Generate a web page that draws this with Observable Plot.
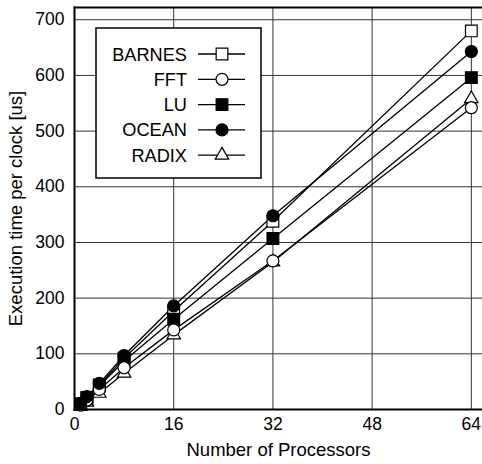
<!DOCTYPE html>
<html><head><meta charset="utf-8">
<script src="https://cdn.jsdelivr.net/npm/d3@7"></script>
<script src="https://cdn.jsdelivr.net/npm/@observablehq/plot@0.6"></script>
<style>body{margin:0;background:#fff} #chart{width:482px;height:464px}</style>
</head><body><div id="chart"></div>
<script>
const processors = [1, 2, 4, 8, 16, 32, 64];
const seriesNames = ["BARNES", "FFT", "LU", "OCEAN", "RADIX"];
const barnes = [10, 21, 44, 92, 177, 338, 680];
const fft    = [8, 17, 36, 75, 143, 267, 542];
const lu     = [10, 21, 42, 87, 162, 307, 596];
const ocean  = [11, 23, 47, 97, 186, 348, 643];
const radix  = [6, 13, 29, 65, 134, 265, 558];
const xTicks = [0, 16, 32, 48, 64];
const yTicks = [0, 100, 200, 300, 400, 500, 600, 700];

const values = {BARNES: barnes, FFT: fft, LU: lu, OCEAN: ocean, RADIX: radix};
const symbolOf = {BARNES: "square", FFT: "circle", LU: "square", OCEAN: "circle", RADIX: "triangle"};
const fillOf = {BARNES: "white", FFT: "white", LU: "black", OCEAN: "black", RADIX: "white"};
const rOf = {square: 6.6, circle: 6, triangle: 5};
const dotOrder = ["BARNES", "LU", "RADIX", "FFT", "OCEAN"];

const rows = seriesNames.flatMap(s => processors.map((p, i) => ({series: s, p, t: values[s][i]})));

const font = "'Liberation Sans', Arial, Helvetica, sans-serif";
const plot = Plot.plot({
  width: 482, height: 464,
  marginLeft: 74, marginRight: 0, marginTop: 7, marginBottom: 55,
  style: {fontFamily: font, fontSize: "17.5px", color: "black", background: "white"},
  x: {domain: [0, 65.8]},
  y: {domain: [0, 722]},
  marks: [
    Plot.gridX(xTicks.slice(1), {stroke: "#333", strokeOpacity: 1, strokeWidth: 1}),
    Plot.gridY(yTicks.slice(1), {stroke: "#333", strokeOpacity: 1, strokeWidth: 1}),
    Plot.axisX(xTicks, {tickSize: 0, tickPadding: 8, fontSize: 17.5, label: null}),
    Plot.axisX({label: "Number of Processors", ticks: [], tickSize: 0, fontSize: 18.5, labelAnchor: "center", labelArrow: "none", labelOffset: 46}),
    Plot.axisY(yTicks, {tickSize: 0, tickPadding: 10, fontSize: 17.5, label: null}),
    Plot.axisY({label: "Execution time per clock [us]", ticks: [], tickSize: 0, fontSize: 18.5, labelAnchor: "center", labelArrow: "none", labelOffset: 66}),
    Plot.line(rows, {x: "p", y: "t", z: "series", stroke: "black", strokeWidth: 1.3}),
    ...dotOrder.map(s => Plot.dot(rows.filter(d => d.series === s), {
      x: "p", y: "t", symbol: () => symbolOf[s], r: rOf[symbolOf[s]],
      fill: fillOf[s], stroke: "black", strokeWidth: 1.2
    })),
    Plot.frame({anchor: "top", strokeWidth: 2}),
    Plot.frame({anchor: "left", strokeWidth: 2}),
    Plot.frame({anchor: "bottom", strokeWidth: 2})
  ]
});
document.getElementById("chart").appendChild(plot);

// Legend box
const svg = d3.select(plot);
const lg = svg.append("g").attr("font-family", font).attr("font-size", 18.2);
lg.append("rect").attr("x", 96).attr("y", 28).attr("width", 165).attr("height", 150)
  .attr("fill", "white").attr("stroke", "black").attr("stroke-width", 1.5);
seriesNames.forEach((s, i) => {
  const cy = 54 + i * 25.3;
  lg.append("text").attr("x", 187).attr("y", cy).attr("dy", "0.36em").attr("text-anchor", "end").text(s);
  lg.append("line").attr("x1", 198).attr("x2", 245).attr("y1", cy).attr("y2", cy).attr("stroke", "black").attr("stroke-width", 1.3);
  const sym = symbolOf[s];
  const type = sym === "square" ? d3.symbolSquare : sym === "circle" ? d3.symbolCircle : d3.symbolTriangle;
  const r = rOf[sym];
  lg.append("path").attr("d", d3.symbol(type, Math.PI * r * r)()).attr("transform", `translate(222,${cy})`)
    .attr("fill", fillOf[s]).attr("stroke", "black").attr("stroke-width", 1.2);
});
</script></body></html>
